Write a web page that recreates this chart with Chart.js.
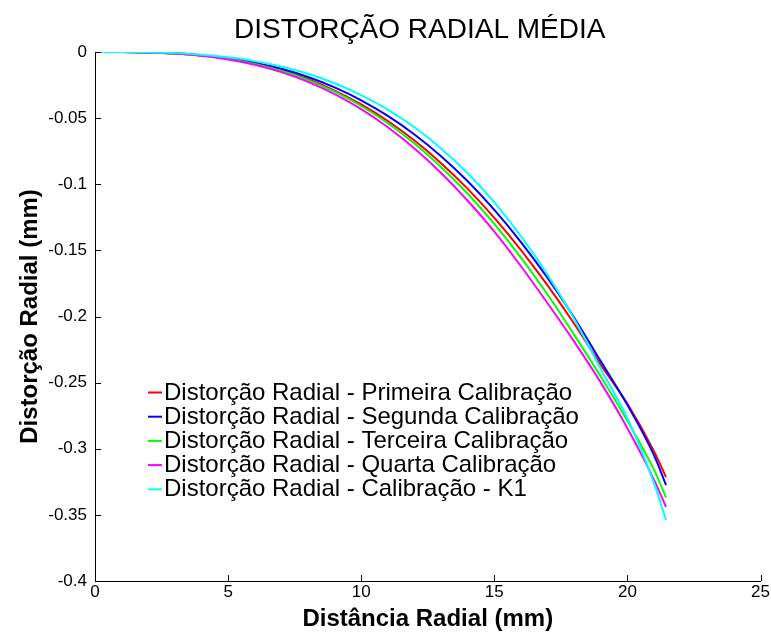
<!DOCTYPE html>
<html><head><meta charset="utf-8">
<script src="https://cdn.jsdelivr.net/npm/chart.js@4/dist/chart.umd.min.js"></script>
<style>html,body{margin:0;padding:0;background:#fff}#wrap{width:771px;height:637px;position:relative}</style>
</head><body><div id="wrap"><canvas id="c" width="771" height="637"></canvas></div>
<script>
const chartTitle = "DISTORÇÃO RADIAL MÉDIA";
const xAxisTitle = "Distância Radial (mm)";
const yAxisTitle = "Distorção Radial (mm)";
const radialDistance = [0,1,2,3,4,5,6,7,8,9,10,11,12,13,14,15,16,17,18,19,20,21,21.45];
const seriesNames = [
  "Distorção Radial - Primeira Calibração",
  "Distorção Radial - Segunda Calibração",
  "Distorção Radial - Terceira Calibração",
  "Distorção Radial - Quarta Calibração",
  "Distorção Radial - Calibração - K1"
];
const seriesColors = ["#ff0000","#0000ff","#00ff00","#ff00ff","#00ffff"];
const primeira = [0,-0.00004,-0.00033,-0.00112,-0.00264,-0.00513,-0.00882,-0.01392,-0.02063,-0.02914,-0.0396,-0.05216,-0.06695,-0.08405,-0.10352,-0.12541,-0.14973,-0.17644,-0.20545,-0.23668,-0.266,-0.302,-0.3215];
const segunda = [0,-0.00004,-0.0003,-0.00101,-0.00239,-0.00465,-0.00802,-0.01269,-0.01887,-0.02675,-0.03652,-0.04836,-0.0624,-0.07884,-0.09777,-0.11935,-0.14368,-0.17083,-0.20089,-0.23392,-0.267,-0.305,-0.3275];
const terceira = [0,-0.00004,-0.00034,-0.00115,-0.00271,-0.00528,-0.00908,-0.01434,-0.02125,-0.03003,-0.04084,-0.05384,-0.06916,-0.08691,-0.10717,-0.12999,-0.15541,-0.18339,-0.2139,-0.2455,-0.279,-0.316,-0.337];
const quarta = [0,-0.00005,-0.00036,-0.00122,-0.0029,-0.00563,-0.00966,-0.01524,-0.02257,-0.03184,-0.04323,-0.05689,-0.07294,-0.09146,-0.1125,-0.1358,-0.162,-0.19,-0.219,-0.25,-0.2845,-0.3235,-0.344];
const calibK1 = [0,-0.00003,-0.00025,-0.00085,-0.00203,-0.00398,-0.0069,-0.01101,-0.01649,-0.0236,-0.03254,-0.04358,-0.05694,-0.0729,-0.09174,-0.11374,-0.13921,-0.16847,-0.20187,-0.23976,-0.277,-0.326,-0.354];
const xTickValues = [0,5,10,15,20,25];
const yTickValues = [0,-0.05,-0.1,-0.15,-0.2,-0.25,-0.3,-0.35,-0.4];
const yTickLabels = ["0","-0.05","-0.1","-0.15","-0.2","-0.25","-0.3","-0.35","-0.4"];

const FONT = "'Liberation Sans', Arial, sans-serif";
const allSeries = [primeira, segunda, terceira, quarta, calibK1];

const datasets = allSeries.map((vals, i) => ({
  label: seriesNames[i],
  data: radialDistance.map((r, j) => ({x: r, y: vals[j]})),
  borderColor: seriesColors[i],
  backgroundColor: seriesColors[i],
  borderWidth: 2,
  pointRadius: 0,
  fill: false,
  cubicInterpolationMode: 'monotone',
  order: allSeries.length - 1 - i
}));

const extras = {
  id: 'extras',
  afterDraw(chart) {
    const ctx = chart.ctx;
    const ca = chart.chartArea;
    const xs = chart.scales.x, ys = chart.scales.y;
    ctx.save();
    // inward ticks
    ctx.strokeStyle = '#000';
    ctx.lineWidth = 1;
    ctx.beginPath();
    xTickValues.forEach(v => {
      const px = Math.round(xs.getPixelForValue(v)) + 0.5;
      ctx.moveTo(px, ca.bottom);
      ctx.lineTo(px, ca.bottom - 6);
    });
    yTickValues.forEach(v => {
      const py = Math.round(ys.getPixelForValue(v)) + 0.5;
      ctx.moveTo(ca.left, py);
      ctx.lineTo(ca.left + 6, py);
    });
    ctx.stroke();
    // title
    ctx.fillStyle = '#000';
    ctx.font = "28px " + FONT;
    ctx.textAlign = 'center';
    ctx.textBaseline = 'middle';
    ctx.fillText(chartTitle, (ca.left + ca.right) / 2 - 8, 30);
    // legend
    ctx.font = "24px " + FONT;
    ctx.textAlign = 'left';
    chart.data.datasets.forEach((ds, i) => {
      const y = 392 + i * 24.2;
      ctx.strokeStyle = ds.borderColor;
      ctx.lineWidth = 2;
      ctx.beginPath();
      ctx.moveTo(148, y + 0.5);
      ctx.lineTo(162, y + 0.5);
      ctx.stroke();
      ctx.fillStyle = '#000';
      ctx.fillText(ds.label, 164, y + 1);
    });
    ctx.restore();
  }
};

new Chart(document.getElementById('c'), {
  type: 'line',
  data: { datasets },
  options: {
    responsive: false,
    devicePixelRatio: 1,
    animation: false,
    layout: { padding: { top: 52, right: 8, bottom: 0, left: 0 } },
    plugins: { legend: { display: false }, title: { display: false }, tooltip: { enabled: false } },
    scales: {
      x: {
        type: 'linear', min: 0, max: 25,
        afterFit: s => { s.height = 56; },
        afterBuildTicks: s => { s.ticks = xTickValues.map(v => ({value: v})); },
        ticks: { font: { size: 17, family: FONT }, color: '#000', padding: 1, maxRotation: 0,
                 callback: v => String(v) },
        grid: { drawOnChartArea: false, drawTicks: false },
        border: { display: true, color: '#000', width: 1 },
        title: { display: true, text: xAxisTitle, color: '#000',
                 font: { size: 24, weight: 'bold', family: FONT }, padding: { top: 0, bottom: 3 } }
      },
      y: {
        type: 'linear', min: -0.4, max: 0,
        afterFit: s => { s.width = 95; },
        afterBuildTicks: s => { s.ticks = yTickValues.map(v => ({value: v})); },
        ticks: { font: { size: 17, family: FONT }, color: '#000', padding: 8,
                 callback: (v) => yTickLabels[yTickValues.findIndex(t => Math.abs(t - v) < 1e-9)] },
        grid: { drawOnChartArea: false, drawTicks: false },
        border: { display: true, color: '#000', width: 1 },
        title: { display: true, text: yAxisTitle, color: '#000',
                 font: { size: 24, weight: 'bold', family: FONT }, padding: { top: 16, bottom: 0 } }
      }
    }
  },
  plugins: [extras]
});
</script></body></html>
